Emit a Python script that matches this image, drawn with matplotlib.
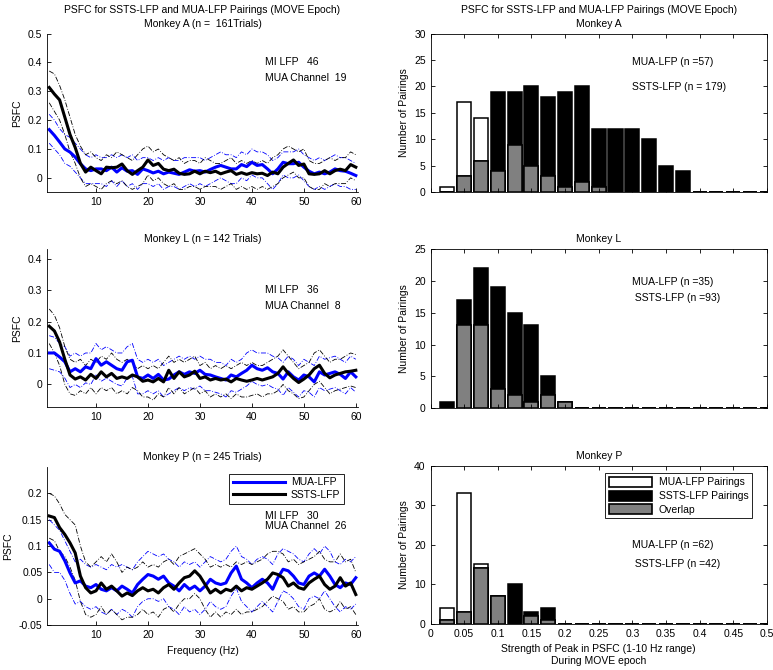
import matplotlib
matplotlib.use("Agg")
import matplotlib.pyplot as plt
import numpy as np
from matplotlib.patches import Patch
from matplotlib.lines import Line2D

plt.rcParams['font.family'] = ['Liberation Sans', 'DejaVu Sans']
FS = 7.5
plt.rcParams['font.size'] = FS

# frequency axis (Hz)
freq = np.arange(1, 61)

# ---- Monkey A (PSFC) ----
a_ssts = [0.313, 0.29, 0.27, 0.21, 0.15, 0.105, 0.05, 0.02, 0.037, 0.025,
          0.014, 0.037, 0.035, 0.037, 0.048, 0.025, 0.012, 0.025, 0.037, 0.062,
          0.043, 0.05, 0.03, 0.025, 0.03, 0.016, 0.012, 0.014, 0.023, 0.014,
          0.023, 0.018, 0.023, 0.014, 0.02, 0.025, 0.012, 0.018, 0.012, 0.018,
          0.014, 0.016, 0.008, 0.02, 0.014, 0.037, 0.05, 0.062, 0.043, 0.048,
          0.014, 0.012, 0.014, 0.025, 0.014, 0.025, 0.03, 0.025, 0.046, 0.037]
a_ssts_hi = [0.37, 0.36, 0.32, 0.27, 0.21, 0.15, 0.11, 0.08, 0.09, 0.07,
             0.06, 0.08, 0.07, 0.09, 0.08, 0.07, 0.06, 0.08, 0.1, 0.11,
             0.09, 0.1, 0.08, 0.07, 0.06, 0.07, 0.05, 0.06, 0.06, 0.05,
             0.07, 0.06, 0.05, 0.05, 0.06, 0.07, 0.05, 0.06, 0.05, 0.06,
             0.05, 0.06, 0.05, 0.07, 0.08, 0.1, 0.11, 0.1, 0.09, 0.1,
             0.06, 0.05, 0.05, 0.06, 0.07, 0.06, 0.07, 0.07, 0.09, 0.08]
a_ssts_lo = [0.26, 0.23, 0.2, 0.15, 0.09, 0.05, 0.0, -0.03, -0.02, -0.03,
             -0.04, -0.02, -0.01, -0.02, -0.01, -0.03, -0.04, -0.03, -0.02, 0.01,
             -0.01, 0.0, -0.02, -0.03, -0.02, -0.04, -0.04, -0.03, -0.03, -0.04,
             -0.03, -0.03, -0.03, -0.04, -0.03, -0.02, -0.04, -0.03, -0.04, -0.03,
             -0.04, -0.03, -0.04, -0.03, -0.02, 0.0, 0.01, 0.02, 0.0, 0.0,
             -0.03, -0.04, -0.04, -0.02, -0.03, -0.02, -0.02, -0.02, 0.0, -0.01]
a_mua = [0.167, 0.147, 0.124, 0.1, 0.089, 0.072, 0.049, 0.031, 0.025, 0.031,
         0.031, 0.025, 0.037, 0.02, 0.035, 0.023, 0.025, 0.012, 0.031, 0.025,
         0.017, 0.023, 0.014, 0.02, 0.016, 0.012, 0.02, 0.028, 0.023, 0.025,
         0.02, 0.029, 0.037, 0.043, 0.037, 0.031, 0.031, 0.046, 0.039, 0.054,
         0.043, 0.046, 0.031, 0.014, 0.031, 0.054, 0.049, 0.049, 0.054, 0.037,
         0.023, 0.014, 0.02, 0.014, 0.02, 0.031, 0.025, 0.023, 0.016, 0.008]
a_mua_hi = [0.22, 0.2, 0.17, 0.15, 0.14, 0.12, 0.1, 0.08, 0.07, 0.08,
            0.07, 0.07, 0.08, 0.07, 0.08, 0.07, 0.08, 0.06, 0.07, 0.07,
            0.06, 0.07, 0.06, 0.07, 0.06, 0.06, 0.07, 0.07, 0.07, 0.07,
            0.06, 0.07, 0.08, 0.09, 0.08, 0.08, 0.07, 0.09, 0.08, 0.1,
            0.09, 0.09, 0.08, 0.06, 0.07, 0.09, 0.09, 0.09, 0.1, 0.08,
            0.07, 0.06, 0.07, 0.06, 0.07, 0.08, 0.07, 0.07, 0.06, 0.05]
a_mua_lo = [0.12, 0.1, 0.08, 0.05, 0.04, 0.02, 0.0, -0.02, -0.02, -0.02,
            -0.02, -0.03, -0.01, -0.03, -0.01, -0.03, -0.02, -0.04, -0.02, -0.02,
            -0.03, -0.02, -0.04, -0.03, -0.03, -0.04, -0.03, -0.02, -0.03, -0.02,
            -0.03, -0.02, -0.01, 0.0, -0.01, -0.02, -0.02, 0.0, -0.01, 0.01,
            0.0, 0.0, -0.02, -0.04, -0.02, 0.01, 0.0, 0.0, 0.01, -0.01,
            -0.03, -0.04, -0.03, -0.04, -0.03, -0.02, -0.03, -0.03, -0.04, -0.04]

# ---- Monkey L (PSFC) ----
l_ssts = [0.185, 0.17, 0.135, 0.08, 0.03, 0.017, 0.024, 0.014, 0.032, 0.019,
          0.04, 0.024, 0.035, 0.019, 0.024, 0.019, 0.03, 0.024, 0.01, 0.014,
          0.008, 0.019, 0.008, 0.045, 0.019, 0.04, 0.024, 0.03, 0.042, 0.019,
          0.024, 0.014, 0.019, 0.014, 0.017, 0.008, 0.019, 0.014, 0.01, 0.014,
          0.019, 0.014, 0.019, 0.024, 0.035, 0.056, 0.035, 0.019, 0.006, 0.017,
          0.03, 0.05, 0.061, 0.035, 0.021, 0.03, 0.035, 0.04, 0.042, 0.045]
l_ssts_hi = [0.24, 0.22, 0.18, 0.12, 0.08, 0.07, 0.08, 0.06, 0.08, 0.07,
             0.09, 0.08, 0.1, 0.08, 0.07, 0.08, 0.07, 0.05, 0.06, 0.05,
             0.06, 0.05, 0.07, 0.09, 0.07, 0.08, 0.07, 0.08, 0.09, 0.06,
             0.07, 0.05, 0.06, 0.05, 0.06, 0.05, 0.06, 0.07, 0.06, 0.07,
             0.06, 0.06, 0.07, 0.08, 0.09, 0.11, 0.09, 0.07, 0.05, 0.06,
             0.07, 0.1, 0.11, 0.09, 0.07, 0.08, 0.08, 0.09, 0.1, 0.095]
l_ssts_lo = [0.13, 0.1, 0.06, 0.0, -0.03, -0.035, -0.02, -0.03, -0.01, -0.03,
             -0.01, -0.02, -0.01, -0.03, -0.02, -0.03, -0.01, -0.02, -0.04, -0.04,
             -0.05, -0.03, -0.04, -0.01, -0.03, -0.01, -0.03, -0.02, -0.01, -0.03,
             -0.02, -0.04, -0.03, -0.04, -0.03, -0.045, -0.03, -0.04, -0.04, -0.035,
             -0.03, -0.04, -0.03, -0.03, -0.02, 0.0, -0.02, -0.03, -0.045, -0.04,
             -0.02, 0.0, 0.01, -0.01, -0.03, -0.02, -0.015, -0.01, -0.005, -0.01]
l_mua = [0.1, 0.1, 0.087, 0.072, 0.04, 0.05, 0.04, 0.056, 0.05, 0.082,
         0.061, 0.072, 0.061, 0.05, 0.045, 0.072, 0.077, 0.024, 0.019, 0.03,
         0.019, 0.032, 0.014, 0.017, 0.03, 0.04, 0.032, 0.04, 0.035, 0.045,
         0.032, 0.03, 0.024, 0.019, 0.014, 0.03, 0.024, 0.035, 0.045, 0.061,
         0.05, 0.045, 0.053, 0.04, 0.035, 0.017, 0.04, 0.024, 0.014, 0.03,
         0.024, 0.008, 0.04, 0.03, 0.035, 0.04, 0.032, 0.019, 0.04, 0.024]
l_mua_hi = [0.155, 0.15, 0.13, 0.12, 0.09, 0.1, 0.09, 0.1, 0.1, 0.13,
            0.11, 0.12, 0.11, 0.1, 0.1, 0.12, 0.13, 0.08, 0.07, 0.08,
            0.07, 0.08, 0.06, 0.07, 0.08, 0.09, 0.08, 0.09, 0.08, 0.09,
            0.08, 0.08, 0.07, 0.07, 0.06, 0.08, 0.07, 0.08, 0.1, 0.11,
            0.1, 0.1, 0.1, 0.09, 0.085, 0.07, 0.09, 0.08, 0.06, 0.08,
            0.07, 0.06, 0.09, 0.08, 0.085, 0.09, 0.08, 0.07, 0.09, 0.08]
l_mua_lo = [0.05, 0.045, 0.04, 0.02, -0.01, 0.0, -0.01, 0.005, 0.0, 0.03,
            0.01, 0.02, 0.01, 0.0, -0.005, 0.02, 0.025, -0.03, -0.03, -0.02,
            -0.03, -0.02, -0.04, -0.03, -0.02, -0.01, -0.02, -0.01, -0.015, -0.005,
            -0.02, -0.02, -0.025, -0.03, -0.04, -0.02, -0.025, -0.015, -0.005, 0.01,
            0.0, -0.005, 0.0, -0.01, -0.015, -0.035, -0.01, -0.025, -0.04, -0.02,
            -0.025, -0.04, -0.01, -0.02, -0.015, -0.01, -0.02, -0.03, -0.01, -0.025]

# ---- Monkey P (PSFC) ----
p_ssts = [0.157, 0.154, 0.135, 0.122, 0.106, 0.087, 0.043, 0.021, 0.011, 0.015,
          0.03, 0.018, 0.024, 0.015, 0.005, 0.011, 0.006, 0.015, 0.021, 0.015,
          0.018, 0.011, 0.021, 0.027, 0.018, 0.03, 0.04, 0.043, 0.053, 0.043,
          0.027, 0.011, 0.018, 0.011, 0.018, 0.015, 0.024, 0.015, 0.021, 0.018,
          0.024, 0.03, 0.037, 0.049, 0.046, 0.04, 0.024, 0.03, 0.021, 0.018,
          0.03, 0.037, 0.043, 0.027, 0.018, 0.024, 0.04, 0.024, 0.03, 0.008]
p_ssts_hi = [0.2, 0.195, 0.18, 0.16, 0.15, 0.14, 0.1, 0.07, 0.06, 0.07,
             0.08, 0.07, 0.085, 0.07, 0.05, 0.06, 0.055, 0.06, 0.07, 0.06,
             0.065, 0.06, 0.07, 0.075, 0.065, 0.08, 0.085, 0.09, 0.095, 0.085,
             0.075, 0.06, 0.065, 0.06, 0.065, 0.06, 0.07, 0.065, 0.07, 0.065,
             0.07, 0.075, 0.085, 0.09, 0.09, 0.085, 0.07, 0.075, 0.065, 0.07,
             0.075, 0.08, 0.09, 0.075, 0.07, 0.07, 0.085, 0.07, 0.075, 0.05]
p_ssts_lo = [0.115, 0.11, 0.09, 0.08, 0.06, 0.035, -0.005, -0.03, -0.035, -0.03,
             -0.015, -0.03, -0.02, -0.03, -0.04, -0.035, -0.035, -0.03, -0.02, -0.03,
             -0.025, -0.035, -0.02, -0.015, -0.025, -0.01, 0.0, 0.0, 0.01, 0.0,
             -0.02, -0.035, -0.025, -0.035, -0.025, -0.03, -0.02, -0.03, -0.025, -0.025,
             -0.02, -0.015, -0.005, 0.005, 0.0, -0.005, -0.02, -0.015, -0.025, -0.025,
             -0.015, -0.01, 0.0, -0.02, -0.025, -0.02, -0.005, -0.02, -0.015, -0.03]
p_mua = [0.106, 0.094, 0.09, 0.072, 0.049, 0.03, 0.034, 0.024, 0.021, 0.027,
         0.018, 0.015, 0.021, 0.015, 0.024, 0.018, 0.011, 0.027, 0.037, 0.046,
         0.043, 0.037, 0.043, 0.03, 0.024, 0.015, 0.027, 0.018, 0.024, 0.015,
         0.024, 0.037, 0.03, 0.027, 0.03, 0.049, 0.062, 0.037, 0.03, 0.021,
         0.03, 0.037, 0.03, 0.018, 0.04, 0.056, 0.053, 0.043, 0.03, 0.027,
         0.043, 0.049, 0.043, 0.056, 0.043, 0.027, 0.021, 0.03, 0.027, 0.04]
p_mua_hi = [0.15, 0.14, 0.13, 0.11, 0.09, 0.07, 0.075, 0.065, 0.06, 0.065,
            0.06, 0.055, 0.065, 0.06, 0.065, 0.06, 0.055, 0.07, 0.08, 0.09,
            0.085, 0.08, 0.085, 0.075, 0.07, 0.06, 0.07, 0.065, 0.07, 0.06,
            0.07, 0.08, 0.075, 0.07, 0.075, 0.09, 0.1, 0.08, 0.075, 0.065,
            0.075, 0.08, 0.075, 0.065, 0.085, 0.095, 0.09, 0.085, 0.075, 0.07,
            0.085, 0.095, 0.085, 0.1, 0.09, 0.07, 0.065, 0.075, 0.07, 0.08]
p_mua_lo = [0.065, 0.05, 0.05, 0.035, 0.01, -0.01, -0.005, -0.015, -0.02, -0.015,
            -0.025, -0.03, -0.02, -0.03, -0.02, -0.025, -0.035, -0.015, -0.005, 0.0,
            0.0, -0.005, 0.0, -0.015, -0.02, -0.03, -0.015, -0.025, -0.02, -0.03,
            -0.02, -0.005, -0.015, -0.02, -0.015, 0.005, 0.02, -0.005, -0.015, -0.025,
            -0.015, -0.005, -0.015, -0.025, -0.005, 0.015, 0.01, 0.0, -0.015, -0.02,
            0.0, 0.005, 0.0, 0.015, 0.0, -0.015, -0.025, -0.015, -0.02, -0.01]

# ---- histograms of peak strength ----
bins = np.arange(1, 21) * 0.025
a_mua_counts = [1, 17, 14, 4, 9, 5, 3, 1, 2, 1, 0, 0, 0, 0, 0, 0, 0, 0, 0, 0]
a_ssts_counts = [0, 3, 6, 19, 19, 20, 18, 19, 20, 12, 12, 12, 10, 5, 4, 0, 0, 0, 0, 0]
l_mua_counts = [0, 13, 13, 3, 2, 1, 2, 1, 0, 0, 0, 0, 0, 0, 0, 0, 0, 0, 0, 0]
l_ssts_counts = [1, 17, 22, 19, 15, 13, 5, 1, 0, 0, 0, 0, 0, 0, 0, 0, 0, 0, 0, 0]
p_mua_counts = [4, 33, 15, 7, 0, 2, 1, 0, 0, 0, 0, 0, 0, 0, 0, 0, 0, 0, 0, 0]
p_ssts_counts = [1, 3, 14, 7, 10, 3, 4, 0, 0, 0, 0, 0, 0, 0, 0, 0, 0, 0, 0, 0]

blue = '#0000ff'
band_ls = (0, (6, 2, 1, 2))

fig = plt.figure(figsize=(7.73, 6.70), dpi=100)

left_pos = [[0.061, 0.713, 0.402, 0.237],
            [0.061, 0.392, 0.402, 0.236],
            [0.061, 0.067, 0.402, 0.236]]
right_pos = [[0.557, 0.713, 0.435, 0.237],
             [0.557, 0.391, 0.435, 0.237],
             [0.557, 0.069, 0.435, 0.236]]

left_data = [
    (a_mua, a_mua_hi, a_mua_lo, a_ssts, a_ssts_hi, a_ssts_lo),
    (l_mua, l_mua_hi, l_mua_lo, l_ssts, l_ssts_hi, l_ssts_lo),
    (p_mua, p_mua_hi, p_mua_lo, p_ssts, p_ssts_hi, p_ssts_lo),
]
left_titles = ['PSFC for SSTS-LFP and MUA-LFP Pairings (MOVE Epoch)\nMonkey A (n =  161Trials)',
               'Monkey L (n = 142 Trials)',
               'Monkey P (n = 245 Trials)']
left_ylims = [(-0.05, 0.5), (-0.073, 0.43), (-0.05, 0.25)]
left_yticks = [np.arange(0, 0.51, 0.1), np.arange(0, 0.41, 0.1), np.arange(-0.05, 0.21, 0.05)]
left_yticklabels = [['0', '0.1', '0.2', '0.3', '0.4', '0.5'],
                    ['0', '0.1', '0.2', '0.3', '0.4'],
                    ['-0.05', '0', '0.05', '0.1', '0.15', '0.2']]
chan_text = [('MI LFP   46', 'MUA Channel  19', 0.40, 0.345),
             ('MI LFP   36', 'MUA Channel  8', 0.30, 0.25),
             ('MI LFP   30', 'MUA Channel  26', 0.157, 0.138)]

for i in range(3):
    ax = fig.add_axes(left_pos[i])
    mua, mua_hi, mua_lo, ssts, ssts_hi, ssts_lo = left_data[i]
    ax.plot(freq, mua_hi, color=blue, lw=0.6, ls=band_ls)
    ax.plot(freq, mua_lo, color=blue, lw=0.6, ls=band_ls)
    ax.plot(freq, ssts_hi, color='black', lw=0.6, ls=band_ls)
    ax.plot(freq, ssts_lo, color='black', lw=0.6, ls=band_ls)
    ax.plot(freq, mua, color=blue, lw=2.2)
    ax.plot(freq, ssts, color='black', lw=2.2)
    ax.set_xlim(0.6, 60.4)
    ax.set_ylim(*left_ylims[i])
    ax.set_xticks([10, 20, 30, 40, 50, 60])
    ax.set_yticks(left_yticks[i])
    ax.set_yticklabels(left_yticklabels[i])
    ax.spines['top'].set_visible(False)
    ax.spines['right'].set_visible(False)
    for s in ['left', 'bottom']:
        ax.spines[s].set_linewidth(0.6)
    ax.tick_params(direction='in', length=3, width=0.6, labelsize=FS)
    ax.set_title(left_titles[i], fontsize=FS, pad=5, linespacing=1.45)
    ax.set_ylabel('PSFC', fontsize=FS)
    t1, t2, y1, y2 = chan_text[i]
    ax.text(42.5, y1, t1, fontsize=FS, va='center')
    ax.text(42.5, y2, t2, fontsize=FS, va='center')
    if i == 2:
        ax.set_xlabel('Frequency (Hz)', fontsize=FS)
        handles = [Line2D([], [], color=blue, lw=2.2), Line2D([], [], color='black', lw=2.2)]
        leg = ax.legend(handles, ['MUA-LFP', 'SSTS-LFP'], loc='upper right',
                        bbox_to_anchor=(0.955, 0.958), borderaxespad=0, fontsize=FS,
                        handlelength=5.0, fancybox=False, framealpha=1, borderpad=0.35,
                        labelspacing=0.25, handletextpad=0.6)
        leg.get_frame().set_edgecolor('black')
        leg.get_frame().set_linewidth(0.6)

right_data = [(a_mua_counts, a_ssts_counts), (l_mua_counts, l_ssts_counts),
              (p_mua_counts, p_ssts_counts)]
right_titles = ['PSFC for SSTS-LFP and MUA-LFP Pairings (MOVE Epoch)\nMonkey A',
                'Monkey L', 'Monkey P']
right_ylims = [30, 25, 40]
right_ystep = [5, 5, 10]
n_text = [('MUA-LFP (n =57)', 'SSTS-LFP (n = 179)', 24.7, 19.9),
          ('MUA-LFP (n =35)', ' SSTS-LFP (n =93)', 19.9, 17.4),
          ('MUA-LFP (n =62)', ' SSTS-LFP (n =42)', 20.0, 15.2)]
gray = '#808080'

for i in range(3):
    ax = fig.add_axes(right_pos[i])
    mua_c, ssts_c = right_data[i]
    overlap = np.minimum(mua_c, ssts_c)
    ax.bar(bins, mua_c, width=0.021, color='white', edgecolor='black', lw=1.1)
    ax.bar(bins, ssts_c, width=0.021, color='black', edgecolor='black', lw=1.1)
    ax.bar(bins, overlap, width=0.021, color=gray, edgecolor='black', lw=1.1)
    ax.set_xlim(0, 0.5)
    ax.set_ylim(0, right_ylims[i])
    ax.set_xticks(np.arange(0, 0.501, 0.05))
    ax.set_yticks(np.arange(0, right_ylims[i] + 1, right_ystep[i]))
    ax.tick_params(direction='in', length=3, width=0.6, labelsize=FS,
                   top=True, right=True)
    for s in ax.spines.values():
        s.set_linewidth(0.6)
    ax.set_title(right_titles[i], fontsize=FS, pad=5, linespacing=1.45)
    ax.set_ylabel('Number of Pairings', fontsize=FS)
    t1, t2, y1, y2 = n_text[i]
    ax.text(0.3, y1, t1, fontsize=FS, va='center')
    ax.text(0.3, y2, t2, fontsize=FS, va='center')
    if i < 2:
        ax.set_xticklabels([])
    else:
        ax.set_xticklabels(['0', '0.05', '0.1', '0.15', '0.2', '0.25', '0.3',
                            '0.35', '0.4', '0.45', '0.5'])
        ax.set_xlabel('Strength of Peak in PSFC (1-10 Hz range)\nDuring MOVE epoch', fontsize=FS)
        handles = [Patch(facecolor='white', edgecolor='black', lw=1.2),
                   Patch(facecolor='black', edgecolor='black', lw=1.2),
                   Patch(facecolor=gray, edgecolor='black', lw=1.2)]
        leg = ax.legend(handles, ['MUA-LFP Pairings', 'SSTS-LFP Pairings', 'Overlap'],
                        loc='upper right', bbox_to_anchor=(0.956, 0.952), borderaxespad=0,
                        fontsize=FS, handlelength=4.2, handleheight=1.1, fancybox=False,
                        framealpha=1, borderpad=0.35, labelspacing=0.3, handletextpad=0.6)
        leg.get_frame().set_edgecolor('black')
        leg.get_frame().set_linewidth(0.6)

fig.savefig('out.png', dpi=100)
